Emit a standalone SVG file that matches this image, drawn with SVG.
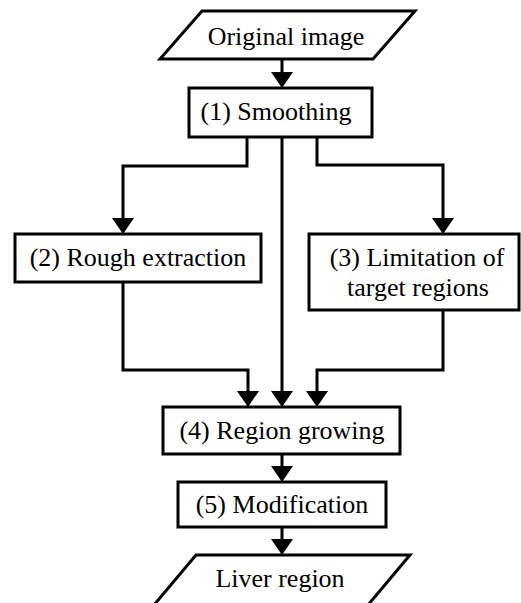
<svg xmlns="http://www.w3.org/2000/svg" width="521" height="603" viewBox="0 0 521 603" font-family="Liberation Serif, Times New Roman, serif">
<defs>
<style>
.n{fill:#fff;stroke:#000;stroke-width:3;stroke-linejoin:miter}
.t{font-size:26px;fill:#000;text-anchor:middle}
.c{fill:none;stroke:#000;stroke-width:3;marker-end:url(#ah)}
</style>
<marker id="ah" markerUnits="userSpaceOnUse" markerWidth="16" markerHeight="22" refX="12" refY="11" orient="auto" viewBox="0 0 16 22">
<path d="M0,0 L16,11 L0,22 z" fill="#000"/>
</marker>
</defs>
<rect width="521" height="603" fill="#fff"/>
<g id="connectors">
<path class="c" d="M282,59 V84"/>
<path class="c" d="M247,137 V166 H123 V230"/>
<path class="c" d="M317,137 V165 H443 V230"/>
<path class="c" d="M282,137 V403"/>
<path class="c" d="M123,282 V370 H248 V403"/>
<path class="c" d="M443,310 V370 H317 V403"/>
<path class="c" d="M282,454 V478"/>
<path class="c" d="M282,527 V551"/>
</g>
<g id="original">
<polygon class="n" points="202,11 415,11 373,59 160,59"/>
<text class="t" x="286" y="45" font-family="Liberation Serif">Original image</text>
</g>
<g id="smoothing">
<rect class="n" x="189" y="88" width="183" height="49"/>
<text class="t" x="276" y="120" font-family="Liberation Serif">(1) Smoothing</text>
</g>
<g id="rough">
<rect class="n" x="15" y="234" width="246" height="48"/>
<text class="t" x="138" y="266" font-family="Liberation Serif">(2) Rough extraction</text>
</g>
<g id="limitation">
<rect class="n" x="309" y="234" width="210" height="76"/>
<text class="t" x="417" y="266" font-family="Liberation Serif">(3) Limitation of</text>
<text class="t" x="418" y="296" font-family="Liberation Serif">target regions</text>
</g>
<g id="growing">
<rect class="n" x="163" y="407" width="237" height="47"/>
<text class="t" x="282" y="439" font-family="Liberation Serif">(4) Region growing</text>
</g>
<g id="modification">
<rect class="n" x="178" y="482" width="208" height="45"/>
<text class="t" x="282" y="513" font-family="Liberation Serif">(5) Modification</text>
</g>
<g id="liver">
<polygon class="n" points="196,555 410,555 368,605 154,605"/>
<text class="t" x="280" y="587" font-family="Liberation Serif">Liver region</text>
</g>
</svg>
